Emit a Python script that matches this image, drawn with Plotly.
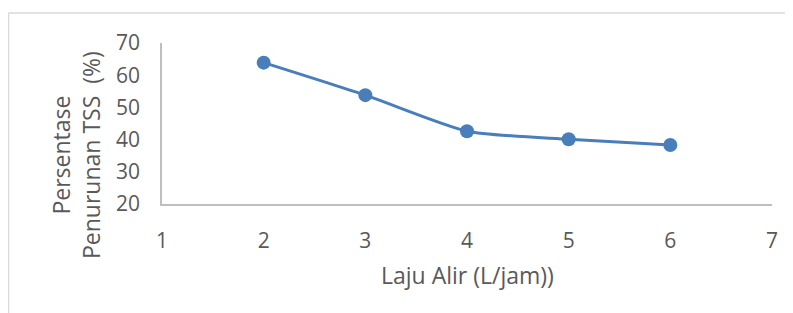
import plotly.graph_objects as go

laju_alir = [2, 3, 4, 5, 6]
penurunan_tss = [63.9, 53.8, 42.6, 40.1, 38.3]
x_ticks = [1, 2, 3, 4, 5, 6, 7]
y_ticks = [20, 30, 40, 50, 60, 70]

# page has an 8px body margin; figure is sized/offset to compensate
OFF = 8
W, H = 785, 305
L, T = 162 - OFF, 43 - OFF
R, B = W + OFF - 772, H + OFF - 204
pw, ph = W - L - R, H - T - B

def px(xp):
    return (xp - OFF - L) / pw

def py(yp):
    return (H - B - (yp - OFF)) / ph

font_color = "#595959"
fam = "Open Sans"
fs = 21
fs_title = 23

fig = go.Figure()
fig.add_trace(go.Scatter(
    x=laju_alir, y=penurunan_tss, mode="lines+markers",
    line=dict(color="#4A7EBB", width=3, shape="spline", smoothing=0.6),
    marker=dict(color="#4A7EBB", size=14),
    showlegend=False,
))

fig.update_layout(
    width=W, height=H,
    margin=dict(l=L, r=R, t=T, b=B),
    paper_bgcolor="white", plot_bgcolor="white",
    font=dict(family=fam, size=fs, color=font_color),
    xaxis=dict(range=[1, 7], tickvals=x_ticks, showgrid=False, zeroline=False,
               showline=True, linecolor="#BFBFBF", linewidth=1.5,
               ticks="outside", ticklen=17, tickcolor="rgba(0,0,0,0)"),
    yaxis=dict(range=[20, 70], tickvals=y_ticks, showgrid=False, zeroline=False,
               showline=True, linecolor="#BFBFBF", linewidth=1.5,
               ticks="outside", ticklen=16, tickcolor="rgba(0,0,0,0)"),
    shapes=[
        dict(type="line", xref="paper", yref="paper", x0=px(8.5), x1=px(800), y0=py(13), y1=py(13),
             line=dict(color="#D9D9D9", width=1.5)),
        dict(type="line", xref="paper", yref="paper", x0=px(8.5), x1=px(8.5), y0=py(13), y1=py(320),
             line=dict(color="#D9D9D9", width=1.5)),
    ],
    annotations=[
        dict(text="Laju Alir (L/jam))", xref="paper", yref="paper", x=px(467), y=py(275),
             showarrow=False, xanchor="center", yanchor="middle", font=dict(size=fs_title, color=font_color)),
        dict(text="Persentase<br>Penurunan TSS  (%)", xref="paper", yref="paper", x=px(76), y=py(155),
             showarrow=False, xanchor="center", yanchor="middle", textangle=-90,
             font=dict(size=fs_title, color=font_color)),
    ],
)

fig.write_html("out.html")
